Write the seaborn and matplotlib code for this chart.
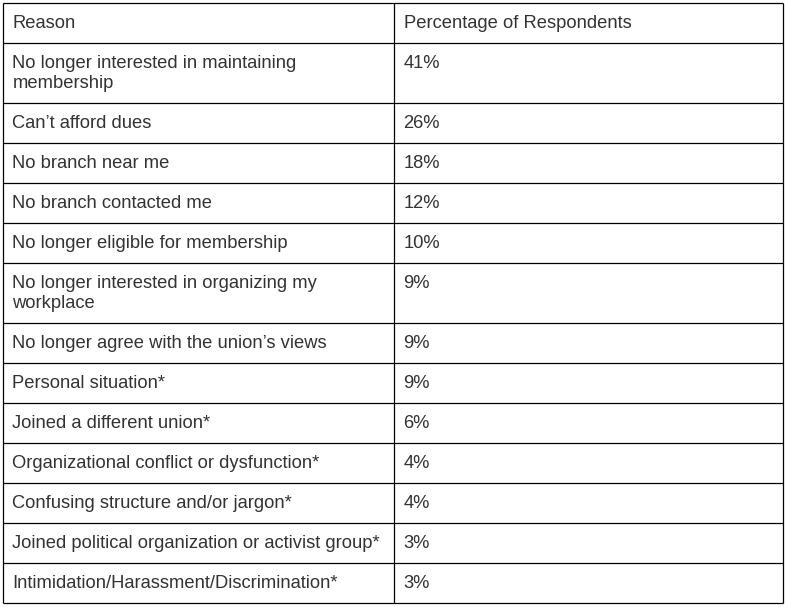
import matplotlib
matplotlib.use("Agg")
import matplotlib.pyplot as plt
import seaborn as sns
import pandas as pd

# data of the table
header = ["Reason", "Percentage of Respondents"]
reasons = [
    "No longer interested in maintaining\nmembership",
    "Can’t afford dues",
    "No branch near me",
    "No branch contacted me",
    "No longer eligible for membership",
    "No longer interested in organizing my\nworkplace",
    "No longer agree with the union’s views",
    "Personal situation*",
    "Joined a different union*",
    "Organizational conflict or dysfunction*",
    "Confusing structure and/or jargon*",
    "Joined political organization or activist group*",
    "Intimidation/Harassment/Discrimination*",
]
percent = [41, 26, 18, 12, 10, 9, 9, 9, 6, 4, 4, 3, 3]

df = pd.DataFrame({"Reason": reasons, "Pct": percent})

sns.set_theme(style="white")
plt.rcParams["font.family"] = ["Liberation Sans", "DejaVu Sans"]

W, H = 785, 607
fig = plt.figure(figsize=(W / 100, H / 100), dpi=100)
ax = fig.add_axes([0, 0, 1, 1])
ax.set_xlim(0, W)
ax.set_ylim(H, 0)
ax.axis("off")

x_left, x_mid, x_right = 2.5, 393.5, 782.5
top = 2.5
line_h = 20
pad = 20
txt_col = "#333333"
fs = 13.2

# header row + body rows
rows = [(header[0], header[1])] + [(r, f"{p}%") for r, p in zip(df["Reason"], df["Pct"])]
y = top
edges = [y]
for left, right in rows:
    n = left.count("\n") + 1
    h = n * line_h + pad
    for i, part in enumerate(left.split("\n")):
        ax.text(x_left + 10, y + 20.5 + i * line_h, part, fontsize=fs,
                color=txt_col, va="center", ha="left")
    ax.text(x_mid + 10, y + 20.5, right, fontsize=fs, color=txt_col,
            va="center", ha="left")
    y += h
    edges.append(y)

ax.hlines(edges, x_left, x_right, color="black", lw=0.9)
ax.vlines([x_left, x_mid, x_right], edges[0], edges[-1], color="black", lw=0.9)

fig.savefig("out.png", dpi=100, facecolor="white")
